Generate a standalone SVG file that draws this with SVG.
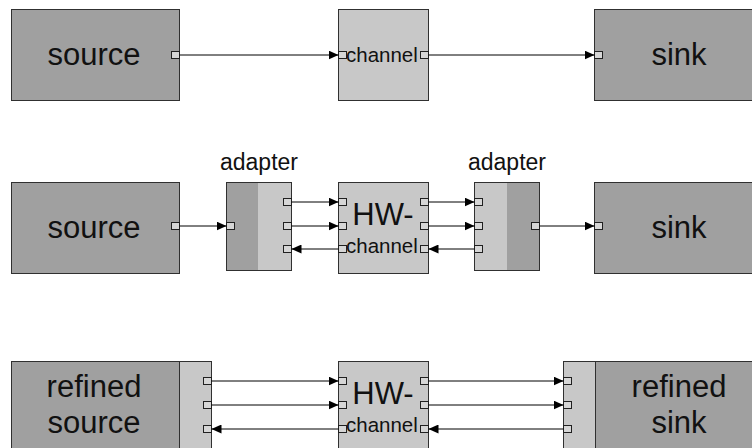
<svg xmlns="http://www.w3.org/2000/svg" width="752" height="448" viewBox="0 0 752 448">
<defs>
<style>
.dark{fill:#a0a0a0;stroke:#303030;stroke-width:1}
.light{fill:#c8c8c8;stroke:#303030;stroke-width:1}
.port{fill:#d6d6d6;stroke:#202020;stroke-width:1}
.big{font-family:"Liberation Sans",Arial,sans-serif;font-size:31px;fill:#111;text-anchor:middle}
.small{font-family:"Liberation Sans",Arial,sans-serif;font-size:20.5px;fill:#111}
.lbl{font-family:"Liberation Sans",Arial,sans-serif;font-size:23px;fill:#111;text-anchor:middle}
.conn{stroke:#000;stroke-width:1;fill:none;marker-end:url(#arr)}
</style>
<marker id="arr" markerWidth="10" markerHeight="9" refX="10" refY="4.5" orient="auto" markerUnits="userSpaceOnUse">
<path d="M0,0 L10,4.5 L0,9 Z" fill="#000"/>
</marker>
</defs>
<rect width="752" height="448" fill="#fff"/>

<!-- Row 1 -->
<g id="source1">
<rect class="dark" x="11.5" y="9.5" width="168" height="91"/>
<text class="big" x="94" y="65">source</text>
<rect class="port" x="171.5" y="51.5" width="8" height="7"/>
</g>
<g id="channel1">
<rect class="light" x="338.5" y="9.5" width="90" height="91"/>
<rect class="port" x="338.5" y="51.5" width="8" height="7"/>
<rect class="port" x="420.5" y="51.5" width="8" height="7"/>
<text class="small" x="346" y="62">channel</text>
</g>
<g id="sink1">
<rect class="dark" x="594.5" y="9.5" width="170" height="91"/>
<text class="big" x="679" y="65">sink</text>
<rect class="port" x="594.5" y="51.5" width="8" height="7"/>
</g>

<!-- Row 2 -->
<g id="source2">
<rect class="dark" x="11.5" y="182.5" width="168" height="91"/>
<text class="big" x="94" y="238">source</text>
<rect class="port" x="171.5" y="222.5" width="8" height="7"/>
</g>
<g id="adapter1">
<text class="lbl" x="259" y="170">adapter</text>
<rect class="light" x="226.5" y="182.5" width="65" height="88"/>
<rect x="227" y="183" width="31" height="87" fill="#a0a0a0"/>
<rect class="port" x="226.5" y="222.5" width="8" height="7"/>
<rect class="port" x="283.5" y="198.5" width="8" height="7"/>
<rect class="port" x="283.5" y="222.5" width="8" height="7"/>
<rect class="port" x="283.5" y="245.5" width="8" height="7"/>
</g>
<g id="hwchannel2">
<rect class="light" x="338.5" y="182.5" width="90" height="91"/>
<text class="big" x="383" y="225">HW-</text>
<text class="small" x="346" y="253">channel</text>
<rect class="port" x="338.5" y="198.5" width="8" height="7"/>
<rect class="port" x="338.5" y="222.5" width="8" height="7"/>
<rect class="port" x="338.5" y="245.5" width="8" height="7"/>
<rect class="port" x="420.5" y="198.5" width="8" height="7"/>
<rect class="port" x="420.5" y="222.5" width="8" height="7"/>
<rect class="port" x="420.5" y="245.5" width="8" height="7"/>
</g>
<g id="adapter2">
<text class="lbl" x="507" y="170">adapter</text>
<rect class="light" x="474.5" y="182.5" width="65" height="88"/>
<rect x="507" y="183" width="32" height="87" fill="#a0a0a0"/>
<rect class="port" x="474.5" y="198.5" width="8" height="7"/>
<rect class="port" x="474.5" y="222.5" width="8" height="7"/>
<rect class="port" x="474.5" y="245.5" width="8" height="7"/>
<rect class="port" x="531.5" y="222.5" width="8" height="7"/>
</g>
<g id="sink2">
<rect class="dark" x="594.5" y="182.5" width="170" height="91"/>
<text class="big" x="679" y="238">sink</text>
<rect class="port" x="594.5" y="222.5" width="8" height="7"/>
</g>

<!-- Row 3 -->
<g id="refinedsource">
<rect class="dark" x="11.5" y="361.5" width="168" height="100"/>
<rect class="light" x="179.5" y="361.5" width="32" height="100"/>
<text class="big" x="94" y="397">refined</text>
<text class="big" x="94" y="433">source</text>
<rect class="port" x="203.5" y="377.5" width="8" height="7"/>
<rect class="port" x="203.5" y="401.5" width="8" height="7"/>
<rect class="port" x="203.5" y="425.5" width="8" height="7"/>
</g>
<g id="hwchannel3">
<rect class="light" x="338.5" y="361.5" width="90" height="100"/>
<text class="big" x="383" y="404">HW-</text>
<text class="small" x="346" y="432">channel</text>
<rect class="port" x="338.5" y="377.5" width="8" height="7"/>
<rect class="port" x="338.5" y="401.5" width="8" height="7"/>
<rect class="port" x="338.5" y="425.5" width="8" height="7"/>
<rect class="port" x="420.5" y="377.5" width="8" height="7"/>
<rect class="port" x="420.5" y="401.5" width="8" height="7"/>
<rect class="port" x="420.5" y="425.5" width="8" height="7"/>
</g>
<g id="refinedsink">
<rect class="light" x="563.5" y="361.5" width="32" height="100"/>
<rect class="dark" x="595.5" y="361.5" width="170" height="100"/>
<text class="big" x="679" y="397">refined</text>
<text class="big" x="679" y="433">sink</text>
<rect class="port" x="563.5" y="377.5" width="8" height="7"/>
<rect class="port" x="563.5" y="401.5" width="8" height="7"/>
<rect class="port" x="563.5" y="425.5" width="8" height="7"/>
</g>

<g id="connectors">
<line class="conn" x1="179.5" y1="55" x2="338.5" y2="55"/>
<line class="conn" x1="428.5" y1="55" x2="594.5" y2="55"/>

<line class="conn" x1="179.5" y1="226" x2="226.5" y2="226"/>
<line class="conn" x1="291.5" y1="202" x2="338.5" y2="202"/>
<line class="conn" x1="291.5" y1="226" x2="338.5" y2="226"/>
<line class="conn" x1="338.5" y1="249" x2="291.5" y2="249"/>
<line class="conn" x1="428.5" y1="202" x2="474.5" y2="202"/>
<line class="conn" x1="428.5" y1="226" x2="474.5" y2="226"/>
<line class="conn" x1="474.5" y1="249" x2="428.5" y2="249"/>
<line class="conn" x1="539.5" y1="226" x2="594.5" y2="226"/>

<line class="conn" x1="211.5" y1="381" x2="338.5" y2="381"/>
<line class="conn" x1="211.5" y1="405" x2="338.5" y2="405"/>
<line class="conn" x1="338.5" y1="429" x2="211.5" y2="429"/>
<line class="conn" x1="428.5" y1="381" x2="563.5" y2="381"/>
<line class="conn" x1="428.5" y1="405" x2="563.5" y2="405"/>
<line class="conn" x1="563.5" y1="429" x2="428.5" y2="429"/>
</g>
</svg>
